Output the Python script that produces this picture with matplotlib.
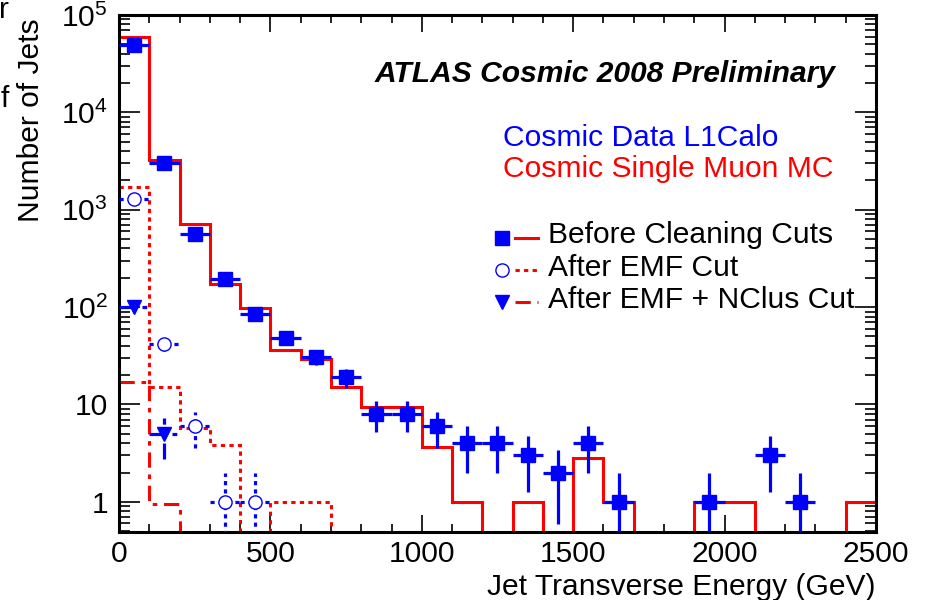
import numpy as np
import matplotlib
matplotlib.use("Agg")
import matplotlib.pyplot as plt
from matplotlib.ticker import FixedLocator, LogLocator, NullFormatter, MultipleLocator

plt.rcParams['font.family'] = ['Liberation Sans', 'DejaVu Sans']
plt.rcParams['mathtext.default'] = 'regular'

# ---------------- data (100 GeV bins, 0-2500 GeV) ----------------
bin_edges = np.arange(0, 2600, 100)
data_before = [49000, 3000, 570, 195, 85, 48, 31, 19, 8, 8, 6, 4, 4, 3, 2, 4, 1, 0, 0, 1, 0, 3, 1, 0, 0]
mc_before = [60000, 3250, 720, 173, 98, 36, 29, 15, 9.5, 9.5, 3.7, 1, 0, 1, 0, 2.8, 1, 0, 0, 1, 1, 0, 0, 0, 1]
data_emf = [1300, 42, 6, 1, 1, 0, 0, 0, 0, 0, 0, 0, 0, 0, 0, 0, 0, 0, 0, 0, 0, 0, 0, 0, 0]
mc_emf = [1700, 15, 5.7, 3.8, 0, 1, 1, 0, 0, 0, 0, 0, 0, 0, 0, 0, 0, 0, 0, 0, 0, 0, 0, 0, 0]
data_nclus = [100, 5, 0, 0, 0, 0, 0, 0, 0, 0, 0, 0, 0, 0, 0, 0, 0, 0, 0, 0, 0, 0, 0, 0, 0]
mc_nclus = [17, 0.95, 0, 0, 0, 0, 0, 0, 0, 0, 0, 0, 0, 0, 0, 0, 0, 0, 0, 0, 0, 0, 0, 0, 0]

ytick_vals = [1, 10, 100, 1000, 10000, 100000]
ytick_labels = ['1', '10', r'$\mathregular{10^{2}}$', r'$\mathregular{10^{3}}$',
                r'$\mathregular{10^{4}}$', r'$\mathregular{10^{5}}$']
xtick_vals = [0, 500, 1000, 1500, 2000, 2500]

BLUE = (0, 0, 1)
RED = (1, 0, 0)
FS = 21.6

fig = plt.figure(figsize=(9.28, 6.0), dpi=100)
ax = fig.add_axes([119 / 928, 68 / 600, 757 / 928, 517 / 600])
ax.set_yscale('log')

centers = bin_edges[:-1] + 50

def mc_hist(vals, ls):
    v = np.asarray(vals, float)
    v = np.where(v > 0, v, 1e-4)
    ax.stairs(v, bin_edges, baseline=None, color=RED, lw=2.2, linestyle=ls, zorder=2)

def data_pts(vals, marker, mfc, ls, ms, mew):
    v = np.asarray(vals, float)
    m = v > 0
    x = centers[m]
    y = v[m]
    err = np.sqrt(y)
    lo = np.minimum(err, y - 1e-4)
    eb = ax.errorbar(x, y, xerr=50, yerr=[lo, err], fmt=marker, color=BLUE,
                     mfc=mfc, mec=BLUE, ms=ms, mew=mew, elinewidth=2.3,
                     capsize=0, linestyle='none', zorder=4)
    for c in eb[2]:
        c.set_linestyle(ls)
        c.set_zorder(3)
    return eb

DASHDOT = (0, (5, 2.2, 1.5, 2.2))
DOTTED = (0, (1.4, 1.4))

mc_hist(mc_before, '-')
mc_hist(mc_emf, DOTTED)
mc_hist(mc_nclus, DASHDOT)

data_pts(data_before, 's', BLUE, '-', 9.8, 1)
data_pts(data_emf, 'o', 'white', (0, (1.3, 1.3)), 9.5, 1.0)
data_pts(data_nclus, 'v', BLUE, DASHDOT, 10, 1)

ax.set_xlim(0, 2500)
ax.set_ylim(0.49, 1e5)

ax.yaxis.set_major_locator(FixedLocator(ytick_vals))
ax.set_yticklabels(ytick_labels)
ax.yaxis.set_minor_locator(LogLocator(base=10, subs=np.arange(2, 10)))
ax.yaxis.set_minor_formatter(NullFormatter())
ax.xaxis.set_major_locator(FixedLocator(xtick_vals))
ax.set_xticklabels([str(v) for v in xtick_vals])
ax.xaxis.set_minor_locator(MultipleLocator(100))

ax.tick_params(axis='both', which='both', direction='in', top=True, right=True,
               labelsize=FS, color='black')
ax.tick_params(axis='y', which='major', length=15, width=1.2, pad=8)
ax.tick_params(axis='y', which='minor', length=8, width=1.2)
ax.tick_params(axis='x', which='major', length=12, width=1.2, pad=6)
ax.tick_params(axis='x', which='minor', length=6, width=1.2)
for s in ax.spines.values():
    s.set_linewidth(2.2)

ax.set_xlabel('Jet Transverse Energy (GeV)', loc='right', fontsize=FS)
ax.xaxis.set_label_coords(1.0, -0.079)
ax.set_ylabel('Number of Jets', loc='top', fontsize=FS)
ax.yaxis.set_label_coords(-0.098, 0.993)

# --- texts ---
ax.text(0.338, 0.870, 'ATLAS Cosmic 2008 Preliminary', transform=ax.transAxes,
        fontsize=FS, fontweight='bold', fontstyle='italic', ha='left', va='baseline')
ax.text(0.507, 0.747, 'Cosmic Data L1Calo', transform=ax.transAxes, color=BLUE,
        fontsize=FS, ha='left', va='baseline')
ax.text(0.507, 0.687, 'Cosmic Single Muon MC', transform=ax.transAxes, color=RED,
        fontsize=FS, ha='left', va='baseline')

leg_labels = ['Before Cleaning Cuts', 'After EMF Cut', 'After EMF + NClus Cut']
leg_text_y = [0.559, 0.495, 0.433]
leg_mark_y = [0.569, 0.507, 0.445]
leg_markers = [('s', BLUE, 9.5, 1), ('o', 'white', 9.5, 1.0), ('v', BLUE, 10.5, 1)]
leg_ls = ['-', DOTTED, DASHDOT]
for lab, ty, my, (mk, fc, ms, mew), ls in zip(leg_labels, leg_text_y, leg_mark_y, leg_markers, leg_ls):
    ax.plot([0.506], [my], marker=mk, mfc=fc, mec=BLUE, ms=ms, mew=mew,
            transform=ax.transAxes, clip_on=False, linestyle='none')
    ax.plot([0.523, 0.553], [my, my], color=RED, lw=2.2, linestyle=ls,
            transform=ax.transAxes, clip_on=False)
    ax.text(0.567, ty, lab, transform=ax.transAxes, fontsize=FS, ha='left', va='baseline')

# cut-off text fragments at the left edge of the reference
fig.text(9 / 928, 1 - 18 / 600, 'r', fontsize=FS, ha='right', va='baseline')
fig.text(9 / 928, 1 - 107 / 600, 'f', fontsize=FS, ha='right', va='baseline')

fig.savefig('out.png', dpi=100)
